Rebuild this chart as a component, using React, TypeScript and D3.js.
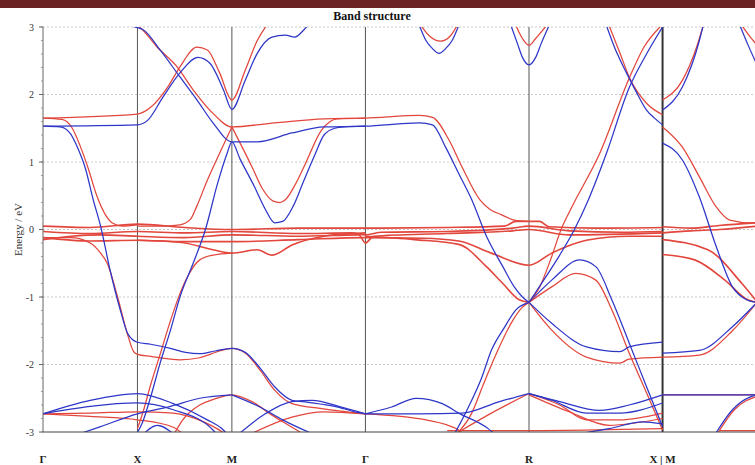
import React from 'react';
import * as d3 from 'd3';

// k-path: Γ-X-M-Γ-R-X|M-R (path lengths in 2π/a)
const nodeLabels = ['Γ', 'X', 'M', 'Γ', 'R', 'X | M'];
const nodeK = [0, 0.5, 1.0, 1.7071, 2.5731, 3.2802, 3.7802];
const energyTicks = [3, 2, 1, 0, -1, -2, -3];

// points are [t, E]: t = node index + fraction along the segment
const blueUpper: number[][][] = [
  [[0,1.53],[0.18,1.52],[0.29,1.42],[0.37,1.2],[0.45,0.9],[0.53,0.45],[0.61,0.05],[0.71,-0.6],[0.82,-1.2],[0.9,-1.55],[1,-1.67],[1.14,-1.7],[1.35,-1.76],[1.51,-1.82],[1.66,-1.84],[1.82,-1.8],[2,-1.76],[2.1,-1.82],[2.21,-2.05],[2.32,-2.33],[2.45,-2.53],[2.57,-2.56],[2.77,-2.62],[2.94,-2.71],[3,-2.73]],
  [[0,1.53],[1,1.55],[1.11,1.62],[1.27,1.96],[1.45,2.32],[1.64,2.55],[1.77,2.46],[1.91,2.07],[2,1.78],[2.1,2.21],[2.19,2.61],[2.3,2.85],[2.4,2.88],[2.47,2.85],[2.54,2.96],[2.58,3.05]],
  [[0.9,3.02],[1.06,2.96],[1.24,2.66],[1.45,2.26],[1.63,1.92],[1.8,1.58],[2,1.3],[2.19,1.3],[2.45,1.43],[2.69,1.52],[3,1.53],[3.33,1.58],[3.41,1.55],[3.49,1.22],[3.57,0.83],[3.65,0.44],[3.74,-0.1],[3.84,-0.55],[3.91,-0.85],[3.96,-1.0],[4,-1.08]],
  [[0.98,-3.05],[1.05,-2.87],[1.14,-2.48],[1.24,-1.98],[1.35,-1.49],[1.45,-1.0],[1.59,-0.5],[1.72,0.0],[1.85,0.69],[1.95,1.13],[2,1.3],[2.06,1.05],[2.17,0.63],[2.25,0.3],[2.32,0.1],[2.38,0.12],[2.46,0.35],[2.54,0.73],[2.62,1.1],[2.69,1.4],[2.77,1.5],[2.84,1.52],[3,1.53]],
  [[3.33,3.02],[3.37,2.8],[3.41,2.68],[3.45,2.61],[3.49,2.68],[3.53,2.8],[3.57,3.02]],
  [[3.89,3.02],[3.93,2.75],[3.96,2.55],[4,2.44],[4.05,2.55],[4.09,2.75],[4.15,3.02]],
  [[5.82,3.02],[5.9,2.75],[6,2.44]],
  [[4.58,3.02],[4.64,2.7],[4.73,2.32],[4.8,2.05],[4.88,1.77],[4.94,1.65],[5,1.55]],
  [[5,1.77],[5.21,2.11],[5.39,2.8],[5.43,3.02]],
  [[4,-1.08],[4.11,-0.75],[4.23,-0.38],[4.34,0.0],[4.44,0.42],[4.58,1.13],[4.75,2.1],[4.88,2.6],[5,3.0]],
  [[5,1.28],[5.21,1.03],[5.39,0.48],[5.57,-0.26],[5.74,-0.85],[5.89,-1.04],[6,-1.08]],
];

const blueLower: number[][][] = [
  [[4,-1.08],[4.17,-1.39],[4.43,-1.74],[4.68,-1.81],[4.75,-1.74],[5,-1.67]],
  [[5,-1.83],[5.39,-1.79],[5.74,-1.44],[6,-1.08]],
  [[4,-1.08],[4.17,-0.75],[4.38,-0.45],[4.5,-0.55],[4.62,-1.04],[4.75,-1.68],[4.88,-2.33],[5,-2.92]],
  [[3.54,-3.05],[3.63,-2.63],[3.71,-2.2],[3.77,-1.79],[3.85,-1.45],[3.92,-1.19],[4,-1.08]],
  [[3,-2.73],[3.16,-2.63],[3.31,-2.5],[3.47,-2.58],[3.57,-2.72],[3.75,-2.95],[3.8,-3.05]],
  [[3,-2.73],[3.33,-2.73],[3.59,-2.72],[3.82,-2.55],[4,-2.43]],
  [[4,-2.43],[4.17,-2.53],[4.43,-2.72],[4.68,-2.72],[5,-2.57]],
  [[4,-2.43],[4.23,-2.55],[4.53,-2.68],[4.75,-2.6],[5,-2.45]],
  [[4.3,-3.05],[4.6,-2.95],[4.85,-2.85],[5,-2.88]],
  [[5,-2.45],[6,-2.45]],
  [[5.55,-3.05],[5.74,-2.67],[5.93,-2.48],[6,-2.45]],
  [[0,-2.73],[0.5,-2.53],[1,-2.43],[1.38,-2.58],[1.74,-2.82],[1.91,-2.97],[1.96,-3.05]],
  [[0,-2.73],[0.5,-2.62],[1,-2.57],[1.38,-2.67],[1.8,-2.97],[1.85,-3.05]],
  [[0.34,-3.05],[0.61,-2.92],[1,-2.73],[1.35,-2.62],[1.66,-2.5],[2,-2.45]],
  [[2,-2.45],[2.21,-2.63],[2.38,-2.82],[2.63,-3.05]],
  [[2.04,-3.05],[2.25,-2.73],[2.45,-2.55],[2.6,-2.53],[2.82,-2.63],[3,-2.73]],
  [[1.05,-3.05],[1.21,-2.9],[1.4,-3.05]],
];

const redUpper: number[][][] = [
  [[0,1.65],[0.2,1.63],[0.31,1.5],[0.39,1.25],[0.48,0.9],[0.57,0.5],[0.66,0.22],[0.73,0.1],[0.84,0.05],[1,0.07]],
  [[0,1.65],[1,1.71],[1.14,1.81],[1.32,2.11],[1.45,2.41],[1.63,2.7],[1.74,2.66],[1.87,2.32],[2,1.92],[2.1,2.36],[2.19,2.8],[2.27,3.05]],
  [[1,3.02],[1.03,2.99],[1.21,2.7],[1.42,2.41],[1.59,2.07],[1.8,1.72],[2,1.52],[2.32,1.58],[2.69,1.64],[3,1.65],[3.33,1.69],[3.41,1.66],[3.51,1.33],[3.59,0.93],[3.7,0.44],[3.76,0.3],[3.83,0.22],[3.91,0.14],[4,0.12]],
  [[2,1.52],[2.15,0.93],[2.23,0.6],[2.31,0.42],[2.36,0.4],[2.4,0.44],[2.47,0.65],[2.54,0.93],[2.67,1.47],[2.79,1.64],[3,1.65]],
  [[1,0.05],[1.24,0.05],[1.45,0.07],[1.56,0.15],[1.63,0.35],[1.74,0.73],[1.87,1.13],[2,1.52]],
  [[3.34,3.02],[3.39,2.87],[3.46,2.79],[3.52,2.87],[3.56,3.02]],
  [[3.92,3.02],[3.96,2.83],[4,2.73],[4.05,2.83],[4.13,3.02]],
  [[5.84,3.02],[5.93,2.85],[6,2.73]],
  [[4.6,3.02],[4.68,2.62],[4.75,2.26],[4.88,1.87],[5,1.7]],
  [[5,1.92],[5.21,2.21],[5.36,2.7],[5.43,3.02]],
  [[4,-1.08],[4.08,-0.85],[4.17,-0.4],[4.24,0.0],[4.32,0.33],[4.53,1.13],[4.75,2.24],[4.86,2.7],[4.98,3.0]],
  [[5,1.52],[5.21,1.22],[5.39,0.78],[5.57,0.33],[5.71,0.14],[5.93,0.1],[6,0.1]],
];

const redFlat: number[][][] = [
  [[0,0.05],[0.5,0.03],[1,0.08],[1.5,0.03],[2,0.0],[2.5,0.02],[3,0.02],[3.5,0.03],[3.85,0.05],[3.92,0.12],[4,0.12],[4.08,0.12],[4.15,0.04],[4.5,0.02],[5,0.03]],
  [[0,-0.03],[0.5,-0.06],[1,-0.03],[1.5,-0.05],[2,-0.03],[2.5,-0.06],[2.9,-0.05],[3,-0.08],[3.1,-0.04],[3.5,-0.03],[3.9,0.02],[4,0.05],[4.3,-0.02],[4.7,-0.04],[5,-0.03]],
  [[0,-0.15],[0.3,-0.1],[0.6,-0.08],[1,-0.1],[1.5,-0.12],[2,-0.08],[2.5,-0.1],[2.95,-0.08],[3,-0.2],[3.05,-0.1],[3.5,-0.06],[3.9,-0.02],[4,0.0],[4.3,-0.08],[5,-0.05]],
  [[0,-0.12],[0.5,-0.17],[1,-0.16],[1.5,-0.18],[2,-0.18],[2.5,-0.15],[3,-0.12],[3.35,-0.13],[3.57,-0.17],[3.77,-0.35],[4,-0.53],[4.17,-0.35],[4.43,-0.16],[4.75,-0.1],[5,-0.1]],
  [[3,-0.1],[3.3,-0.15],[3.57,-0.22],[3.74,-0.55],[3.84,-0.8],[3.94,-1.04],[4,-1.08]],
  [[1,-0.16],[1.45,-0.19],[1.8,-0.3],[2,-0.35],[2.19,-0.3],[2.3,-0.38],[2.45,-0.23],[2.69,-0.1],[3,-0.05]],
  [[5,0.04],[5.3,0.02],[5.6,0.06],[6,0.1]],
  [[5,-0.05],[5.3,-0.02],[5.6,0.0],[6,0.05]],
  [[5,-0.15],[5.48,-0.3],[5.84,-0.8],[6,-1.07]],
  [[5,-0.37],[5.34,-0.45],[5.66,-0.75],[5.9,-1.04],[6,-1.08]],
];

const redLower: number[][][] = [
  [[0,-0.12],[0.29,-0.12],[0.5,-0.2],[0.61,-0.35],[0.68,-0.5],[0.79,-1.0],[0.89,-1.53],[0.96,-1.81],[1,-1.85],[1.14,-1.88],[1.45,-1.93],[1.66,-1.9],[1.87,-1.8],[2,-1.76],[2.1,-1.83],[2.21,-2.08],[2.32,-2.38],[2.45,-2.58],[2.66,-2.65],[3,-2.73]],
  [[1,-2.95],[1.06,-2.7],[1.14,-2.3],[1.24,-1.85],[1.35,-1.35],[1.45,-0.95],[1.53,-0.7],[1.66,-0.45],[1.8,-0.38],[2,-0.35]],
  [[4,-1.08],[4.17,-0.85],[4.35,-0.65],[4.5,-0.75],[4.62,-1.19],[4.75,-1.83],[4.88,-2.42],[5,-2.97]],
  [[4,-1.08],[4.17,-1.49],[4.43,-1.89],[4.68,-1.98],[4.75,-1.92],[5,-1.89]],
  [[5,-1.89],[5.39,-1.86],[5.74,-1.5],[6,-1.08]],
  [[3.55,-3.05],[3.65,-2.72],[3.72,-2.3],[3.8,-1.84],[3.9,-1.35],[3.96,-1.15],[4,-1.08]],
  [[0,-2.73],[0.5,-2.72],[1,-2.7],[1.38,-2.72],[1.7,-2.85],[1.9,-3.0],[1.95,-3.05]],
  [[0,-2.73],[0.5,-2.77],[1,-2.82],[1.38,-2.93],[1.5,-3.05]],
  [[1.38,-3.05],[1.48,-2.82],[1.66,-2.6],[1.8,-2.52],[2,-2.45],[2.15,-2.55],[2.3,-2.75],[2.45,-2.93],[2.55,-3.05]],
  [[2.12,-3.05],[2.45,-2.78],[2.69,-2.7],[3,-2.73]],
  [[3,-2.73],[3.37,-2.82],[3.57,-2.97],[3.6,-3.05]],
  [[3.57,-3.0],[3.77,-2.72],[4,-2.43]],
  [[4,-2.43],[4.23,-2.6],[4.43,-2.82],[4.68,-2.82],[5,-2.72]],
  [[4,-2.45],[4.3,-2.7],[4.6,-2.9],[5,-2.8]],
  [[3.5,-2.98],[4,-2.98],[4.5,-2.97],[5,-2.95]],
  [[5,-2.45],[6,-2.45]],
  [[5.57,-3.05],[5.76,-2.67],[6,-2.47]],
  [[5.6,-2.98],[6,-2.98]],
];

const W = 755;
const H = 465;
const left = 43;
const right = 757;
const top = 27;
const bottom = 432;

export default function App() {
  const kScale = d3.scaleLinear().domain(d3.range(nodeK.length)).range(nodeK);
  const kx = d3.scaleLinear().domain([0, nodeK[nodeK.length - 1]]).range([left, right]);
  const x = (t: number) => kx(kScale(t));
  const y = d3.scaleLinear().domain([-3, 3]).range([bottom, top]);

  const line = d3.line<number[]>()
    .x(d => x(d[0]))
    .y(d => y(d[1]))
    .curve(d3.curveMonotoneX);

  const minorTicks = d3.range(-3, 3.001, 0.2);
  const red = '#e2463c';
  const blue = '#2e36c8';

  return (
    <svg width={W} height={H} style={{ position: 'absolute', left: 0, top: 0, background: '#fff' }}
      fontFamily="'Liberation Serif', 'DejaVu Serif', serif">
      <defs>
        <clipPath id="plotClip">
          <rect x={left} y={top} width={right - left} height={bottom - top} />
        </clipPath>
      </defs>
      <rect x={0} y={0} width={W} height={8} fill="#6b2323" />
      <text x={372} y={20} textAnchor="middle" fontWeight="bold" fontSize={12} fill="#111">Band structure</text>

      {energyTicks.filter(e => e !== -3).map(e => (
        <line key={'g' + e} x1={left} x2={right} y1={y(e)} y2={y(e)}
          stroke="#bbb" strokeWidth={0.8} strokeDasharray="2,2" />
      ))}

      {[1, 2, 3, 4, 5].map(i => (
        <line key={'v' + i} x1={x(i)} x2={x(i)} y1={top} y2={bottom}
          stroke={i === 5 ? '#333' : '#555'} strokeWidth={i === 5 ? 2 : 1} />
      ))}

      <g clipPath="url(#plotClip)" fill="none" strokeWidth={1.25}>
        {redFlat.map((b, i) => <path key={'rf' + i} d={line(b) || ''} stroke={red} strokeWidth={1.6} />)}
        {redLower.map((b, i) => <path key={'rl' + i} d={line(b) || ''} stroke={red} />)}
        {blueLower.map((b, i) => <path key={'bl' + i} d={line(b) || ''} stroke={blue} />)}
        {redUpper.map((b, i) => <path key={'ru' + i} d={line(b) || ''} stroke={red} />)}
        {blueUpper.map((b, i) => <path key={'bu' + i} d={line(b) || ''} stroke={blue} />)}
      </g>

      <line x1={left} x2={left} y1={top} y2={bottom} stroke="#666" strokeWidth={1} />
      <line x1={left} x2={right} y1={bottom} y2={bottom} stroke="#444" strokeWidth={1.2} />
      {minorTicks.map((e, i) => (
        <line key={'m' + i} x1={left - 2} x2={left} y1={y(e)} y2={y(e)} stroke="#888" strokeWidth={0.8} />
      ))}
      {energyTicks.map(e => (
        <g key={'t' + e}>
          <line x1={left - 4} x2={left} y1={y(e)} y2={y(e)} stroke="#666" />
          <text x={left - 9} y={y(e) + 3.5} textAnchor="end" fontSize={10} fill="#333">{e}</text>
        </g>
      ))}
      <text transform={`translate(22,${(top + bottom) / 2}) rotate(-90)`} textAnchor="middle" fontSize={11} fill="#333">Energy / eV</text>

      {nodeLabels.map((l, i) => (
        <text key={'n' + i} x={x(i)} y={463} textAnchor="middle" fontSize={11} fontWeight="bold" fill="#222">{l}</text>
      ))}
    </svg>
  );
}
